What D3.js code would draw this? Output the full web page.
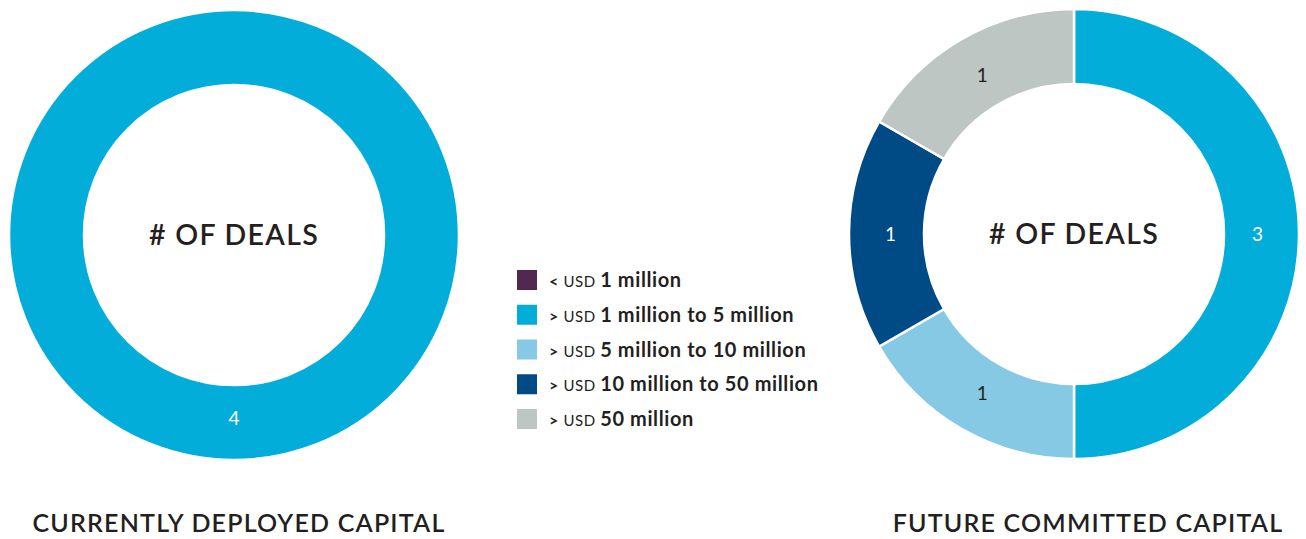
<!DOCTYPE html>
<html>
<head>
<meta charset="utf-8">
<script src="https://cdn.jsdelivr.net/npm/d3@7"></script>
<style>
  html, body { margin: 0; padding: 0; background: #ffffff; }
  svg { display: block; font-family: Lato, "Open Sans", sans-serif; }
</style>
</head>
<body>
<svg id="chart" width="1306" height="539"></svg>
<script>
// ---- data ----
const categories = ["< USD 1 million", "> USD 1 million to 5 million", "> USD 5 million to 10 million", "> USD 10 million to 50 million", "> USD 50 million"];
const legendPrefix = ["<", ">", ">", ">", ">"];
const legendRest = ["1 million", "1 million to 5 million", "5 million to 10 million", "10 million to 50 million", "50 million"];
const colors = ["#532850", "#02aed9", "#85c9e5", "#004a85", "#bec6c4"];
const labelColors = ["#ffffff", "#ffffff", "#231f20", "#ffffff", "#231f20"];
const deployedDeals = [0, 4, 0, 0, 0];
const futureDeals = [0, 3, 1, 1, 1];
const chartTitles = ["CURRENTLY DEPLOYED CAPITAL", "FUTURE COMMITTED CAPITAL"];
const centerLabel = "# OF DEALS";

const svg = d3.select("#chart");
const outerR = 225, innerR = 150;
const pie = d3.pie().sort(null).value(d => d.value);
const arc = d3.arc().innerRadius(innerR).outerRadius(outerR);
const labelArc = d3.arc().innerRadius(innerR - 4).outerRadius(outerR - 4);

function donut(cx, cy, values, title, titleX) {
  const data = values.map((v, i) => ({ value: v, i }));
  const g = svg.append("g").attr("transform", `translate(${cx},${cy})`);
  const arcs = pie(data).filter(d => d.data.value > 0);
  g.selectAll("path.slice").data(arcs).join("path")
    .attr("class", "slice")
    .attr("d", arc)
    .attr("fill", d => colors[d.data.i])
    .attr("stroke", "#ffffff")
    .attr("stroke-width", 2.5);
  g.selectAll("text.val").data(arcs).join("text")
    .attr("class", "val")
    .attr("transform", d => {
      let c = labelArc.centroid(d);
      if (d.endAngle - d.startAngle >= 2 * Math.PI - 1e-6) c = [0, (innerR + outerR) / 2 - 4];
      return `translate(${c[0]},${c[1]})`;
    })
    .attr("text-anchor", "middle")
    .attr("dy", "0.36em")
    .attr("font-size", 19)
    .attr("fill", d => labelColors[d.data.i])
    .text(d => d.data.value);
  g.append("text")
    .attr("text-anchor", "middle")
    .attr("dy", "0.36em")
    .attr("font-size", 28.5)
    .attr("font-weight", 600)
    .attr("letter-spacing", 1.3)
    .attr("fill", "#231f20")
    .text(centerLabel);
  svg.append("text")
    .attr("x", titleX)
    .attr("y", 532)
    .attr("text-anchor", "middle")
    .attr("font-size", 25)
    .attr("font-weight", 600)
    .attr("letter-spacing", 1.2)
    .attr("fill", "#231f20")
    .text(title);
}

donut(234, 235, deployedDeals, chartTitles[0], 239);
donut(1074, 234, futureDeals, chartTitles[1], 1088);

// ---- legend ----
const legend = svg.append("g").attr("transform", "translate(517,270)");
const rowY = d3.scalePoint().domain(d3.range(categories.length)).range([0, 139]);
const rows = legend.selectAll("g.row").data(categories).join("g")
  .attr("class", "row")
  .attr("transform", (d, i) => `translate(0,${rowY(i)})`);
rows.append("rect").attr("width", 20).attr("height", 20).attr("fill", (d, i) => colors[i]);
const t = rows.append("text").attr("x", 32).attr("y", 17).attr("fill", "#231f20").attr("letter-spacing", 0.6);
t.append("tspan").attr("font-size", 16).attr("font-weight", 700).text((d, i) => legendPrefix[i] + " ");
t.append("tspan").attr("font-size", 15).attr("font-weight", 400).text("USD ");
t.append("tspan").attr("font-size", 20).attr("font-weight", 700).text((d, i) => legendRest[i]);
</script>
</body>
</html>
